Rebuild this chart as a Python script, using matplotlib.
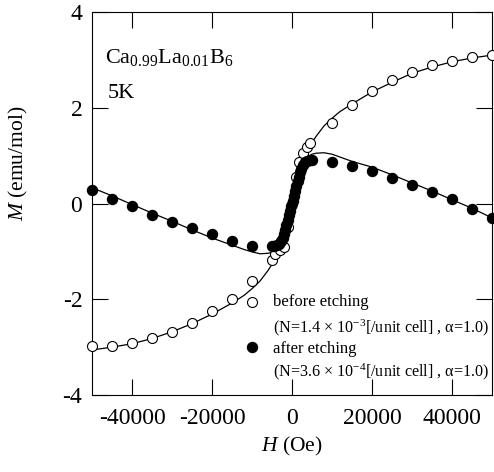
import matplotlib
matplotlib.use("Agg")
import matplotlib.pyplot as plt

plt.rcParams['font.family'] = ['Liberation Serif', 'DejaVu Serif']
plt.rcParams['mathtext.fontset'] = 'custom'
plt.rcParams['mathtext.rm'] = 'Liberation Serif'
plt.rcParams['mathtext.it'] = 'Liberation Serif:italic'

# ---- data: before etching (open circles) ----
H_before = [-50000, -45000, -40000, -35000, -30000, -25000, -20000, -15000, -10000,
            -5000, -4300, -3000, -1900, -1000, 0, 1000, 1800, 2800, 3700, 4600,
            10000, 15000, 20000, 25000, 30000, 35000, 40000, 45000, 50000]
M_before = [-2.97, -2.97, -2.91, -2.80, -2.68, -2.49, -2.24, -1.99, -1.62,
            -1.17, -1.06, -0.97, -0.90, -0.50, 0.00, 0.55, 0.86, 1.05, 1.17, 1.27,
            1.69, 2.06, 2.35, 2.58, 2.75, 2.89, 2.98, 3.07, 3.10]

# ---- data: after etching (filled circles) ----
H_after = [-50000, -45000, -40000, -35000, -30000, -25000, -20000, -15000, -10000, -5000,
           -4500, -3800, -3200, -2700, -2300, -2000, -1700, -1400, -1100, -800, -500, -200,
           200, 500, 800, 1100, 1400, 1700, 2000, 2300, 2700, 3200, 3800, 4500,
           5000, 10000, 15000, 20000, 25000, 30000, 35000, 40000, 45000, 50000]
M_after = [0.28, 0.10, -0.05, -0.23, -0.38, -0.52, -0.64, -0.78, -0.88, -0.88,
           -0.89, -0.87, -0.84, -0.79, -0.72, -0.64, -0.55, -0.45, -0.35, -0.25, -0.15, -0.05,
           0.06, 0.16, 0.26, 0.36, 0.46, 0.56, 0.65, 0.73, 0.80, 0.86, 0.89, 0.91,
           0.90, 0.87, 0.78, 0.68, 0.54, 0.39, 0.25, 0.09, -0.12, -0.30]

# ---- fit curves ----
H_fit = [-50000, -45000, -40000, -35000, -30000, -25000, -20000, -15000, -12000, -10000,
         -8000, -6000, -5000, -4000, -3000, -2000, -1000, 0, 1000, 2000, 3000, 4000,
         5000, 6000, 8000, 10000, 12000, 15000, 20000, 25000, 30000, 35000, 40000,
         45000, 50000]
M_fit_before = [-3.06, -3.00, -2.93, -2.82, -2.68, -2.51, -2.31, -2.08, -1.92, -1.78,
                -1.62, -1.40, -1.27, -1.10, -0.92, -0.70, -0.40, 0.00, 0.40, 0.70, 0.92, 1.10,
                1.27, 1.40, 1.62, 1.78, 1.92, 2.08, 2.33, 2.53, 2.72, 2.85, 2.96,
                3.04, 3.10]
M_fit_after = [0.33, 0.16, -0.02, -0.20, -0.37, -0.55, -0.72, -0.87, -0.96, -1.01,
               -1.05, -1.04, -1.02, -0.97, -0.88, -0.68, -0.38, 0.00, 0.38, 0.68, 0.88, 0.98,
               1.03, 1.05, 1.06, 1.03, 0.97, 0.88, 0.76, 0.60, 0.43, 0.26, 0.08,
               -0.10, -0.30]

xticks = [-40000, -20000, 0, 20000, 40000]
yticks = [-4, -2, 0, 2, 4]

fig = plt.figure(figsize=(4.94, 4.72), dpi=100)
ax = fig.add_axes([92/494, 1-395/472, 400/494, 383/472])

ax.plot(H_fit, M_fit_before, color='black', lw=0.9, zorder=2)
ax.plot(H_fit, M_fit_after, color='black', lw=0.9, zorder=2)
ax.plot(H_before, M_before, 'o', mfc='white', mec='black', mew=0.8, ms=7.2,
        clip_on=False, zorder=3)
ax.plot(H_after, M_after, 'o', mfc='black', mec='black', ms=7.2,
        clip_on=False, zorder=4)

ax.set_xlim(-50000, 50000)
ax.set_ylim(-4, 4)
ax.set_xticks(xticks)
ax.set_yticks(yticks)
ax.set_xticklabels([str(t) for t in xticks])
ax.set_yticklabels([str(t) for t in yticks])
ax.tick_params(direction='in', length=11.5, width=0.8, top=True, right=True,
               labelsize=17, pad=7)
ax.tick_params(axis='x', pad=9)
for s in ax.spines.values():
    s.set_linewidth(0.8)

ax.set_xlabel(r'$H$ (Oe)', fontsize=15.5, labelpad=5)
fig.text(18/494, 1-163/472, r'$M$ (emu/mol)', fontsize=15.5, rotation=90,
         ha='center', va='center')

ax.text(0.033, 1-(57-12)/383, r'Ca$_{0.99}$La$_{0.01}$B$_6$', transform=ax.transAxes,
        fontsize=16, ha='left', va='center')
ax.text(0.04, 1-(93-12)/383, '5K', transform=ax.transAxes,
        fontsize=16, ha='left', va='center')

# legend (manual)
ax.plot([0.399], [0.242], 'o', mfc='white', mec='black', mew=0.8, ms=7.2,
        transform=ax.transAxes, clip_on=False)
ax.plot([0.399], [0.125], 'o', mfc='black', mec='black', ms=7.2,
        transform=ax.transAxes, clip_on=False)
lx = 0.452
ax.text(lx, 0.242, 'before etching', transform=ax.transAxes, fontsize=12,
        ha='left', va='center')
ax.text(lx, 0.175, r'(N=1.4 × 10$^{-3}$[/unit cell] , α=1.0)', transform=ax.transAxes,
        fontsize=11.6, ha='left', va='center')
ax.text(lx, 0.120, 'after etching', transform=ax.transAxes, fontsize=12,
        ha='left', va='center')
ax.text(lx, 0.062, r'(N=3.6 × 10$^{-4}$[/unit cell] , α=1.0)', transform=ax.transAxes,
        fontsize=11.6, ha='left', va='center')

fig.savefig('out.png', dpi=100)
